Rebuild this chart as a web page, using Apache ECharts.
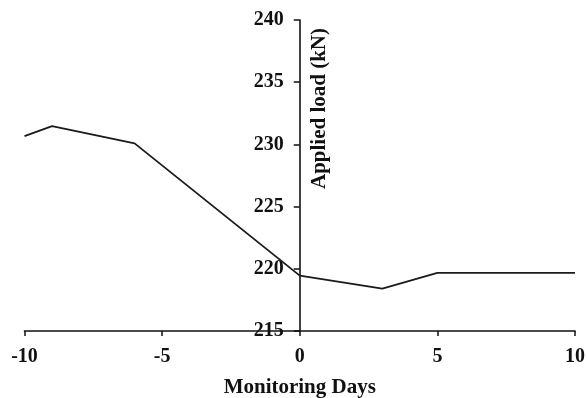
<!DOCTYPE html>
<html>
<head>
<meta charset="utf-8">
<script src="https://cdn.jsdelivr.net/npm/echarts@6/dist/echarts.min.js"></script>
<style>html,body{margin:0;padding:0;background:#fff}#c{width:587px;height:398px}</style>
</head>
<body>
<div id="c"></div>
<script>
var days = [-10, -9, -6, 0, 3, 5, 10];
var loads = [230.67, 231.47, 230.08, 219.45, 218.4, 219.67, 219.67];
var xTitle = 'Monitoring Days';
var yTitle = 'Applied load (kN)';

var font = '"Liberation Serif", "Times New Roman", serif';
var gridLeft = 24.5, gridRight = 12, W = 587;
var plotW = W - gridLeft - gridRight;
var chart = echarts.init(document.getElementById('c'), null, {renderer: 'canvas'});
chart.setOption({
  animation: false,
  backgroundColor: '#fff',
  grid: {left: gridLeft, right: gridRight, top: 20, bottom: 67, containLabel: false, outerBoundsMode: 'none'},
  xAxis: {
    type: 'value', min: -10, max: 10, interval: 5,
    name: xTitle, nameLocation: 'middle', nameGap: 46,
    nameTextStyle: {fontFamily: font, fontWeight: 'bold', fontSize: 21, color: '#111'},
    axisLine: {onZero: false, lineStyle: {color: '#111', width: 1.6}},
    axisTick: {show: true, length: 5, lineStyle: {color: '#111', width: 1.5}},
    axisLabel: {fontFamily: font, fontWeight: 'bold', fontSize: 20, color: '#111', margin: 16},
    splitLine: {show: false}
  },
  yAxis: {
    type: 'value', min: 215, max: 240, interval: 5,
    position: 'left', offset: -plotW / 2,
    axisLine: {onZero: false, lineStyle: {color: '#111', width: 1.6}},
    axisTick: {show: true, length: 6, lineStyle: {color: '#111', width: 1.5}},
    axisLabel: {fontFamily: font, fontWeight: 'bold', fontSize: 20, color: '#111', margin: 16},
    splitLine: {show: false}
  },
  graphic: [{
    type: 'text', left: 309, top: 28,
    rotation: Math.PI / 2, originX: 0, originY: 0,
    style: {text: yTitle, fontFamily: font, fontWeight: 'bold', fontSize: 21, fill: '#111'}
  }],
  series: [{
    type: 'line',
    data: days.map(function (d, i) { return [d, loads[i]]; }),
    showSymbol: false,
    lineStyle: {color: '#1a1a1a', width: 1.8},
    clip: false
  }]
});
</script>
</body>
</html>
